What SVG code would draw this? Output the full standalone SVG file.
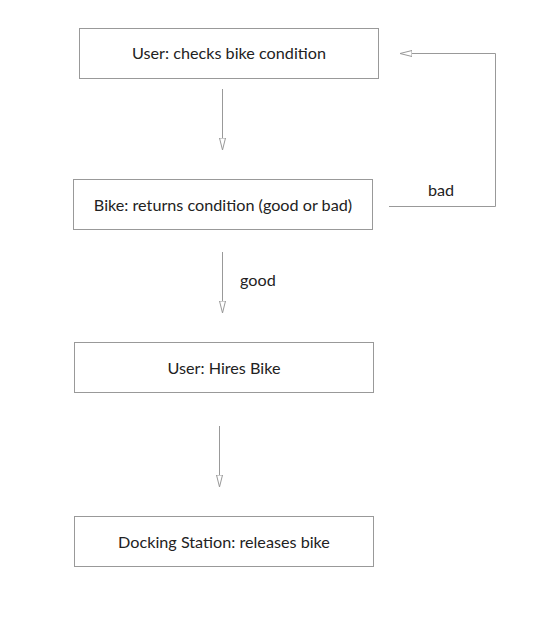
<svg xmlns="http://www.w3.org/2000/svg" width="540" height="630" viewBox="0 0 540 630">
<style>
.box{fill:#fff;stroke:#999;stroke-width:1}
.lbl{font-family:Lato,"Open Sans",sans-serif;font-size:16.2px;fill:#222;text-anchor:middle}
.edge{fill:none;stroke:#999;stroke-width:1}
.elbl{font-family:Lato,"Open Sans",sans-serif;font-size:16.2px;fill:#222}
</style>
<defs>
<marker id="ah" markerWidth="14" markerHeight="8" refX="12" refY="4" orient="auto" markerUnits="userSpaceOnUse">
<path d="M0,1 L12,4 L0,7 Z" fill="#fff" stroke="#999" stroke-width="1"/>
</marker>
</defs>
<rect width="540" height="630" fill="#fff"/>
<g id="connectors">
<line class="edge" x1="222.5" y1="89" x2="222.5" y2="150" marker-end="url(#ah)"/>
<polyline class="edge" points="389,206.5 495.5,206.5 495.5,53.5 400,53.5" marker-end="url(#ah)"/>
<text class="elbl" x="441" y="196" text-anchor="middle">bad</text>
<line class="edge" x1="222.5" y1="252" x2="222.5" y2="313" marker-end="url(#ah)"/>
<text class="elbl" x="240" y="286">good</text>
<line class="edge" x1="219.5" y1="426" x2="219.5" y2="487" marker-end="url(#ah)"/>
</g>
<g id="n1">
<rect class="box" x="79.5" y="28.5" width="299" height="50"/>
<text class="lbl" x="229" y="59">User: checks bike condition</text>
</g>
<g id="n2">
<rect class="box" x="73.5" y="179.5" width="299" height="50"/>
<text class="lbl" x="223" y="211">Bike: returns condition (good or bad)</text>
</g>
<g id="n3">
<rect class="box" x="74.5" y="342.5" width="299" height="50"/>
<text class="lbl" x="224" y="374">User: Hires Bike</text>
</g>
<g id="n4">
<rect class="box" x="74.5" y="516.5" width="299" height="50"/>
<text class="lbl" x="224" y="548">Docking Station: releases bike</text>
</g>
</svg>
